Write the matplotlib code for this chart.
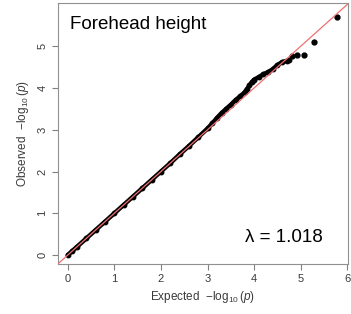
import matplotlib
matplotlib.use("Agg")
import matplotlib.pyplot as plt

# ── Data ─────────────────────────────────────────────────────────────────────
# dense band of points (expected, observed), -log10(p)
band_expected = [0.0, 0.1, 0.2, 0.4, 0.6, 0.8, 1.0, 1.2, 1.4, 1.6, 1.8, 2.0,
                 2.2, 2.4, 2.6, 2.8, 3.0, 3.1, 3.2, 3.3, 3.4, 3.5, 3.6, 3.7,
                 3.8, 3.85, 3.9, 3.95, 4.0, 4.1, 4.2, 4.3, 4.4, 4.5, 4.6, 4.7, 4.75]
band_observed = [0.0, 0.1, 0.2, 0.4, 0.6, 0.8, 1.0, 1.2, 1.4, 1.6, 1.8, 2.0,
                 2.2, 2.41, 2.61, 2.82, 3.03, 3.15, 3.28, 3.4, 3.5, 3.6, 3.71, 3.8,
                 3.9, 3.98, 4.06, 4.14, 4.2, 4.26, 4.33, 4.38, 4.45, 4.55, 4.62, 4.65, 4.66]

# isolated top hits
top_expected = [4.81, 4.92, 5.06, 5.29, 5.77]
top_observed = [4.77, 4.78, 4.80, 5.10, 5.70]

TITLE = "Forehead height"
LAMBDA = 1.018

plt.rcParams['font.family'] = ['Liberation Sans', 'DejaVu Sans']
plt.rcParams['mathtext.fontset'] = 'custom'
plt.rcParams['mathtext.rm'] = 'Liberation Sans'
plt.rcParams['mathtext.it'] = 'Liberation Sans:italic'

TXT = '#3a3a3a'
fig = plt.figure(figsize=(3.51, 3.14), dpi=100)
ax = fig.add_axes([0.165, 0.159, 0.826, 0.831])

ax.plot(band_expected, band_observed, '-o', color='black', lw=3.2, ms=3.2,
        solid_capstyle='round', zorder=2)
ax.plot(top_expected, top_observed, 'o', color='black', ms=3.5, zorder=2)
ax.axline((0, 0), slope=1, color='#f07070', lw=0.9, zorder=3)

ax.set_xlim(-0.21, 6.01)
ax.set_ylim(-0.215, 6.03)
ax.set_xticks(range(7))
ax.set_yticks(range(6))
ax.tick_params(colors='#808080', labelcolor=TXT, labelsize=8, length=4, width=0.8)
for lab in ax.get_yticklabels():
    lab.set_rotation(90)
    lab.set_va('center')
for s in ax.spines.values():
    s.set_color('#909090')
    s.set_linewidth(0.8)

ax.set_xlabel(r'Expected  $-\log_{10}(\mathit{p})$', fontsize=8.5, color=TXT, labelpad=3)
ax.set_ylabel(r'Observed  $-\log_{10}(\mathit{p})$', fontsize=8.5, color=TXT, labelpad=5)

ax.text(0.04, 0.95, TITLE, transform=ax.transAxes, fontsize=13.5,
        color='black', ha='left', va='top')
ax.text(0.914, 0.103, f"λ = {LAMBDA:.3f}", transform=ax.transAxes, fontsize=13.5,
        color='black', ha='right', va='center')

fig.savefig("out.png", dpi=100)
